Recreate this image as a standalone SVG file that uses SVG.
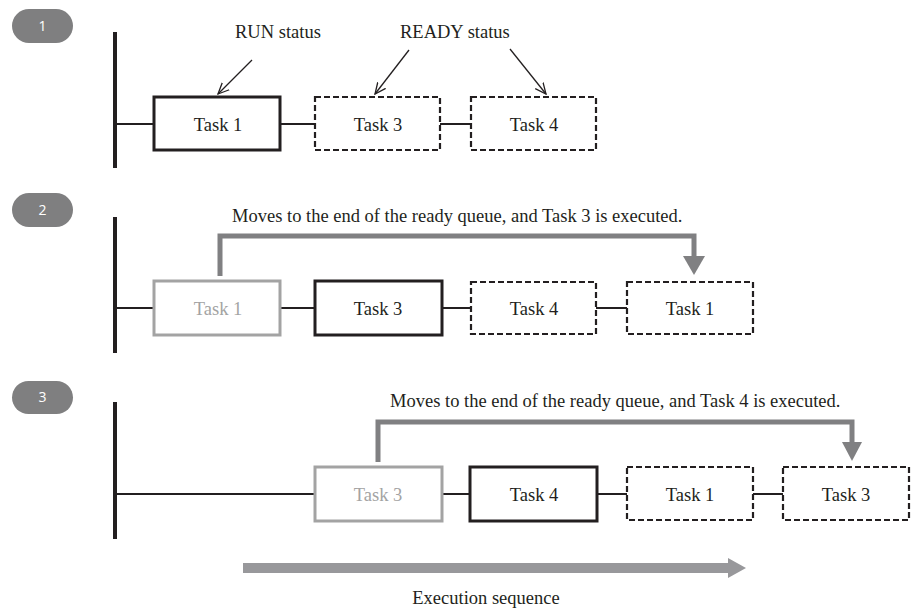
<svg xmlns="http://www.w3.org/2000/svg" width="911" height="610" viewBox="0 0 911 610">
<defs>
<style>
.t{font-family:"Liberation Serif","Times New Roman",serif;font-size:18.5px;fill:#231f20}
.tk{font-family:"Liberation Serif","Times New Roman",serif;font-size:18.5px;fill:#231f20;text-anchor:middle}
.tkg{fill:#a3a3a3}
.badge{fill:#7f7f80}
.bt{font-family:"Open Sans","Noto Sans",sans-serif;font-size:14px;fill:#fff;text-anchor:middle}
.run{fill:#fff;stroke:#231f20;stroke-width:3}
.rdy{fill:#fff;stroke:#231f20;stroke-width:2.2;stroke-dasharray:6 3}
.old{fill:#fff;stroke:#a3a3a3;stroke-width:3}
.bar{stroke:#231f20;stroke-width:4;fill:none}
.ln{stroke:#231f20;stroke-width:2;fill:none}
.thin{stroke:#231f20;stroke-width:1.3;fill:none}
.mv{stroke:#808082;stroke-width:5;fill:none}
.mvh{fill:#808082}
</style>
<marker id="open" viewBox="0 0 12 12" refX="11" refY="6" markerWidth="12" markerHeight="12" markerUnits="userSpaceOnUse" orient="auto">
<path d="M0,1 L11,6 L0,11" fill="none" stroke="#231f20" stroke-width="1.3"/>
</marker>
</defs>

<!-- Badges -->
<g id="badge1"><rect class="badge" x="12" y="9" width="61" height="34" rx="17"/><text class="bt" x="42.5" y="31">1</text></g>
<g id="badge2"><rect class="badge" x="12" y="193" width="61" height="34" rx="17"/><text class="bt" x="42.5" y="215">2</text></g>
<g id="badge3"><rect class="badge" x="12" y="381" width="61" height="33" rx="16.5"/><text class="bt" x="42.5" y="402">3</text></g>

<!-- Connectors -->
<g id="connectors">
<!-- step 1 -->
<line class="bar" x1="115" y1="32" x2="115" y2="168"/>
<line class="ln" x1="115" y1="124" x2="154" y2="124"/>
<line class="ln" x1="280" y1="124" x2="315" y2="124"/>
<line class="ln" x1="440" y1="124" x2="471" y2="124"/>
<line class="thin" x1="252" y1="60" x2="218" y2="94" marker-end="url(#open)"/>
<line class="thin" x1="409" y1="50" x2="375" y2="94" marker-end="url(#open)"/>
<line class="thin" x1="510" y1="49" x2="546" y2="94" marker-end="url(#open)"/>
<!-- step 2 -->
<line class="bar" x1="115" y1="217" x2="115" y2="353"/>
<line class="ln" x1="115" y1="308" x2="154" y2="308"/>
<line class="ln" x1="280" y1="308" x2="315" y2="308"/>
<line class="ln" x1="442" y1="308" x2="471" y2="308"/>
<line class="ln" x1="596" y1="308" x2="627" y2="308"/>
<polyline class="mv" points="220,276 220,236 694,236 694,258"/>
<polygon class="mvh" points="683,256 705,256 694,275"/>
<!-- step 3 -->
<line class="bar" x1="115" y1="402" x2="115" y2="539"/>
<line class="ln" x1="115" y1="494" x2="315" y2="494"/>
<line class="ln" x1="442" y1="494" x2="470" y2="494"/>
<line class="ln" x1="597" y1="494" x2="627" y2="494"/>
<line class="ln" x1="753" y1="494" x2="783" y2="494"/>
<polyline class="mv" points="378,462 378,422 852,422 852,444"/>
<polygon class="mvh" points="842,442 862,442 852,461"/>
<!-- execution sequence -->
<rect x="243" y="563" width="486" height="10" fill="#98989b"/>
<polygon points="728,558 746,568 728,578" fill="#98989b"/>
</g>

<!-- Labels -->
<text class="t" x="235" y="38">RUN status</text>
<text class="t" x="400" y="38">READY status</text>
<text class="t" x="232" y="222">Moves to the end of the ready queue, and Task 3 is executed.</text>
<text class="t" x="390" y="407">Moves to the end of the ready queue, and Task 4 is executed.</text>
<text class="t" x="486" y="604" text-anchor="middle">Execution sequence</text>

<!-- Step 1 nodes -->
<g id="s1-task1"><rect class="run" x="154" y="97" width="126" height="53"/><text class="tk" x="218" y="131">Task 1</text></g>
<g id="s1-task3"><rect class="rdy" x="315" y="97" width="125" height="53"/><text class="tk" x="378" y="131">Task 3</text></g>
<g id="s1-task4"><rect class="rdy" x="471" y="97" width="125" height="53"/><text class="tk" x="534" y="131">Task 4</text></g>

<!-- Step 2 nodes -->
<g id="s2-task1"><rect class="old" x="154" y="281" width="126" height="54"/><text class="tk tkg" x="218" y="315">Task 1</text></g>
<g id="s2-task3"><rect class="run" x="315" y="281" width="127" height="54"/><text class="tk" x="378" y="315">Task 3</text></g>
<g id="s2-task4"><rect class="rdy" x="471" y="282" width="125" height="52"/><text class="tk" x="534" y="315">Task 4</text></g>
<g id="s2-task1b"><rect class="rdy" x="627" y="282" width="126" height="52"/><text class="tk" x="690" y="315">Task 1</text></g>

<!-- Step 3 nodes -->
<g id="s3-task3"><rect class="old" x="315" y="467" width="127" height="54"/><text class="tk tkg" x="378" y="501">Task 3</text></g>
<g id="s3-task4"><rect class="run" x="470" y="467" width="127" height="54"/><text class="tk" x="534" y="501">Task 4</text></g>
<g id="s3-task1"><rect class="rdy" x="627" y="467" width="126" height="53"/><text class="tk" x="690" y="501">Task 1</text></g>
<g id="s3-task3b"><rect class="rdy" x="783" y="467" width="126" height="53"/><text class="tk" x="846" y="501">Task 3</text></g>
</svg>
